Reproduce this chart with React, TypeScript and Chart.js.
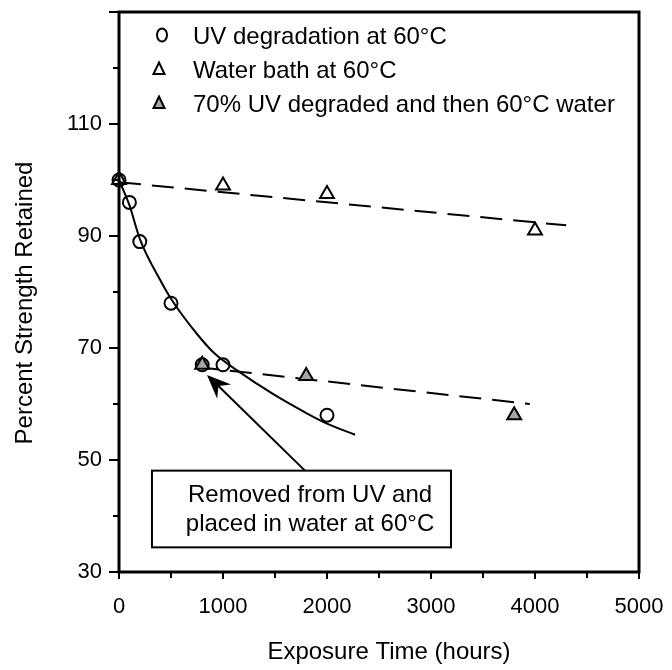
import React, { useEffect, useRef } from 'react';
import { Chart, registerables } from 'chart.js';

Chart.register(...registerables);

// ---- data ----
const uvHours = [0, 100, 200, 500, 800, 1000, 2000];
const uvStrength = [100, 96, 89, 78, 67, 67, 58];

const waterHours = [0, 1000, 2000, 4000];
const waterStrength = [100, 99, 97.5, 91];

const combinedHours = [800, 1800, 3800];
const combinedStrength = [67, 65, 58];

// fitted curves
const uvFitHours = [0, 100, 200, 400, 500, 750, 920, 1135, 1480, 1810, 2000, 2270];
const uvFitStrength = [100, 95.5, 89.5, 82, 78.8, 72.5, 69, 66, 61.8, 58.3, 56.5, 54.5];

const waterFitHours = [0, 4300];
const waterFitStrength = [99.6, 91.9];

const combinedFitHours = [750, 3950];
const combinedFitStrength = [66.6, 60];

const legendLabels = [
  'UV degradation at 60°C',
  'Water bath at 60°C',
  '70% UV degraded and then 60°C water',
];
const noteLines = ['Removed from UV and', 'placed in water at 60°C'];
const xTitle = 'Exposure Time (hours)';
const yTitle = 'Percent Strength Retained';

const xMin = 0, xMax = 5000, xMajor = 1000, xMinor = 500;
const yMin = 30, yMax = 130, yMajor = 20, yMinor = 10, yLabelMax = 110;

// annotation geometry in data units
const noteBox = { x0: 317, x1: 3192, y0: 48.1, y1: 34.4 };
const noteTextX = 1837;
const noteTextY = [43.7, 38.5];
const arrowTail = { x: 1788, y: 48.1 };
const arrowTip = { x: 846, y: 65.2 };

const FONT = '"Liberation Sans", Arial, Helvetica, sans-serif';
const GRAY = '#a6a6a6';

const pts = (xs: number[], ys: number[]) => xs.map((x, i) => ({ x, y: ys[i] }));

const zeroPad = (s: any) => {
  s.paddingTop = 0;
  s.paddingBottom = 0;
  s.paddingLeft = 0;
  s.paddingRight = 0;
};

const decorPlugin = {
  id: 'decor',
  afterDraw(chart: any) {
    const { ctx, chartArea: a, scales } = chart;
    const xs = scales.x, ys = scales.y;
    ctx.save();
    ctx.strokeStyle = '#000';
    ctx.fillStyle = '#000';
    ctx.lineCap = 'butt';

    // frame
    ctx.lineWidth = 3;
    ctx.beginPath();
    ctx.moveTo(a.left, a.top);
    ctx.lineTo(a.right, a.top);
    ctx.lineTo(a.right, a.bottom);
    ctx.lineTo(a.left, a.bottom);
    ctx.closePath();
    ctx.stroke();

    // y ticks
    ctx.lineWidth = 2;
    for (let v = yMin; v <= yMax; v += yMinor) {
      const y = Math.round(ys.getPixelForValue(v));
      const major = (v - yMin) % yMajor === 0;
      ctx.beginPath();
      ctx.moveTo(a.left, y);
      ctx.lineTo(a.left - (major ? 10 : 6), y);
      ctx.stroke();
    }
    // x ticks
    for (let v = xMin; v <= xMax; v += xMinor) {
      const x = Math.round(xs.getPixelForValue(v));
      const major = v % xMajor === 0;
      ctx.beginPath();
      ctx.moveTo(x, a.bottom);
      ctx.lineTo(x, a.bottom + (major ? 7 : 6));
      ctx.stroke();
    }

    // legend
    const lx = 161;
    const rows = [36, 70, 104];
    const tx = 193;
    ctx.lineWidth = 2;
    ctx.beginPath();
    ctx.ellipse(lx + 1, rows[0] - 1, 5, 6.5, 0, 0, Math.PI * 2);
    ctx.stroke();
    const tri = (cx: number, cy: number, fill: string | null) => {
      ctx.beginPath();
      ctx.moveTo(cx, cy - 6.5);
      ctx.lineTo(cx + 5.5, cy + 5);
      ctx.lineTo(cx - 5.5, cy + 5);
      ctx.closePath();
      if (fill) {
        ctx.fillStyle = fill;
        ctx.fill();
      }
      ctx.stroke();
    };
    tri(lx - 2, rows[1] - 1, null);
    tri(lx - 2, rows[2] - 1, GRAY);
    ctx.fillStyle = '#000';
    ctx.font = `24px ${FONT}`;
    ctx.textAlign = 'left';
    ctx.textBaseline = 'middle';
    legendLabels.forEach((t, i) => ctx.fillText(t, tx, rows[i] + 1));

    // annotation box
    const bx0 = xs.getPixelForValue(noteBox.x0);
    const bx1 = xs.getPixelForValue(noteBox.x1);
    const by0 = ys.getPixelForValue(noteBox.y0);
    const by1 = ys.getPixelForValue(noteBox.y1);
    ctx.fillStyle = '#fff';
    ctx.fillRect(bx0, by0, bx1 - bx0, by1 - by0);
    ctx.lineWidth = 2;
    ctx.strokeRect(bx0, by0, bx1 - bx0, by1 - by0);
    ctx.fillStyle = '#000';
    ctx.textAlign = 'center';
    noteLines.forEach((t, i) =>
      ctx.fillText(t, xs.getPixelForValue(noteTextX), ys.getPixelForValue(noteTextY[i]))
    );

    // arrow
    const ax0 = xs.getPixelForValue(arrowTail.x), ay0 = ys.getPixelForValue(arrowTail.y);
    const ax1 = xs.getPixelForValue(arrowTip.x), ay1 = ys.getPixelForValue(arrowTip.y);
    const ang = Math.atan2(ay1 - ay0, ax1 - ax0);
    const hl = 24, hw = 10, notch = 16;
    const cs = Math.cos(ang), sn = Math.sin(ang);
    const bxh = ax1 - cs * hl, byh = ay1 - sn * hl;
    ctx.lineWidth = 2;
    ctx.beginPath();
    ctx.moveTo(ax0, ay0);
    ctx.lineTo(ax1 - cs * notch, ay1 - sn * notch);
    ctx.stroke();
    ctx.beginPath();
    ctx.moveTo(ax1, ay1);
    ctx.lineTo(bxh + sn * hw, byh - cs * hw);
    ctx.lineTo(ax1 - cs * notch, ay1 - sn * notch);
    ctx.lineTo(bxh - sn * hw, byh + cs * hw);
    ctx.closePath();
    ctx.fill();

    // axis titles
    ctx.font = `24px ${FONT}`;
    ctx.textAlign = 'center';
    ctx.textBaseline = 'middle';
    ctx.fillText(xTitle, 389, 652);
    ctx.save();
    ctx.translate(25, 303);
    ctx.rotate(-Math.PI / 2);
    ctx.fillText(yTitle, 0, 0);
    ctx.restore();

    ctx.restore();
  },
};

export default function App() {
  const ref = useRef<HTMLCanvasElement | null>(null);

  useEffect(() => {
    document.body.style.margin = '0';
    const canvas = ref.current;
    if (!canvas) return;
    const chart = new Chart(canvas, {
      type: 'scatter',
      data: {
        datasets: [
          {
            label: legendLabels[2],
            data: pts(combinedHours, combinedStrength),
            pointStyle: 'triangle',
            pointRadius: 8,
            pointBorderWidth: 2,
            pointBackgroundColor: GRAY,
            pointBorderColor: '#000',
            showLine: false,
            clip: false,
          },
          {
            label: legendLabels[1],
            data: pts(waterHours, waterStrength),
            pointStyle: 'triangle',
            pointRadius: 8,
            pointBorderWidth: 2,
            pointBackgroundColor: 'rgba(0,0,0,0)',
            pointBorderColor: '#000',
            showLine: false,
            clip: false,
          },
          {
            label: legendLabels[0],
            data: pts(uvHours, uvStrength),
            pointStyle: 'circle',
            pointRadius: 6.5,
            pointBorderWidth: 2,
            pointBackgroundColor: 'rgba(0,0,0,0)',
            pointBorderColor: '#000',
            showLine: false,
            clip: false,
          },
          {
            label: 'uv fit',
            data: pts(uvFitHours, uvFitStrength),
            showLine: true,
            pointRadius: 0,
            borderColor: '#000',
            borderWidth: 2,
            cubicInterpolationMode: 'monotone',
            fill: false,
          },
          {
            label: 'water fit',
            data: pts(waterFitHours, waterFitStrength),
            showLine: true,
            pointRadius: 0,
            borderColor: '#000',
            borderWidth: 2,
            borderDash: [22, 11],
            fill: false,
          },
          {
            label: 'combined fit',
            data: pts(combinedFitHours, combinedFitStrength),
            showLine: true,
            pointRadius: 0,
            borderColor: '#000',
            borderWidth: 2,
            borderDash: [22, 11],
            fill: false,
          },
        ],
      },
      options: {
        responsive: false,
        animation: false,
        events: [],
        layout: { autoPadding: false, padding: { top: 12, right: 33, left: 0, bottom: 0 } },
        plugins: { legend: { display: false }, tooltip: { enabled: false } },
        scales: {
          x: {
            type: 'linear',
            min: xMin,
            max: xMax,
            grid: { display: false, drawTicks: false },
            border: { display: false },
            ticks: {
              stepSize: xMinor,
              autoSkip: false,
              maxRotation: 0,
              padding: 22,
              color: '#000',
              font: { family: FONT, size: 22 },
              callback: (v: any) => (Number(v) % xMajor === 0 ? String(v) : ''),
            },
            afterFit: (s: any) => { s.height = 98; zeroPad(s); },
          },
          y: {
            type: 'linear',
            min: yMin,
            max: yMax,
            grid: { display: false, drawTicks: false },
            border: { display: false },
            ticks: {
              stepSize: yMinor,
              autoSkip: false,
              padding: 17,
              color: '#000',
              font: { family: FONT, size: 22 },
              callback: (v: any) => {
                const n = Number(v);
                return (n - yMin) % yMajor === 0 && n <= yLabelMax ? String(n) : '';
              },
            },
            afterFit: (s: any) => { s.width = 119; zeroPad(s); },
          },
        },
      },
      plugins: [decorPlugin],
    } as any);
    return () => chart.destroy();
  }, []);

  return (
    <div style={{ position: 'absolute', left: 0, top: 0, width: 672, height: 670 }}>
      <canvas ref={ref} width={672} height={670} style={{ width: 672, height: 670, display: 'block' }} />
    </div>
  );
}
